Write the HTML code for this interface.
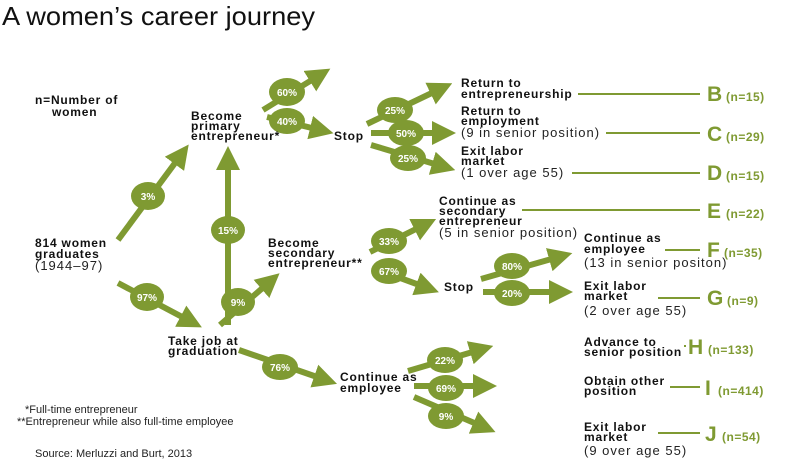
<!DOCTYPE html>
<html><head><meta charset="utf-8"><style>
html,body{margin:0;padding:0;background:#fff;width:800px;height:472px;overflow:hidden}
svg{display:block}
.b{font-family:"Liberation Sans",sans-serif;font-weight:bold;font-size:12px;letter-spacing:0.8px;fill:#111}
.r{font-family:"Liberation Sans",sans-serif;font-size:13px;letter-spacing:1px;fill:#222}
.p{font-family:"Liberation Sans",sans-serif;font-weight:bold;font-size:10px;fill:#fff}
.L{font-family:"Liberation Sans",sans-serif;font-weight:bold;font-size:21px;fill:#7f9a32}
.n{font-family:"Liberation Sans",sans-serif;font-weight:bold;font-size:12px;letter-spacing:0.5px;fill:#7f9a32}
.f{font-family:"Liberation Sans",sans-serif;font-size:11px;fill:#222}
</style></head><body>
<svg width="800" height="472" viewBox="0 0 800 472" xmlns="http://www.w3.org/2000/svg">
<defs>
<marker id="a" markerUnits="strokeWidth" markerWidth="4" markerHeight="4" refX="1" refY="2" orient="auto" viewBox="0 0 4 4">
<path d="M0,0 L4,2 L0,4 Z" fill="#7f9a32"/></marker>
</defs>
<text x="2" y="25" font-family="Liberation Sans,sans-serif" font-size="26" fill="#111" textLength="313" lengthAdjust="spacingAndGlyphs">A women’s career journey</text>
<g stroke="#7f9a32" stroke-width="6" fill="none" marker-end="url(#a)">
<line x1="118" y1="240" x2="178" y2="159"/>
<line x1="228" y1="325" x2="228" y2="164"/>
<line x1="118" y1="283" x2="186" y2="319"/>
<line x1="220" y1="325" x2="266" y2="285"/>
<line x1="263" y1="110" x2="315" y2="78"/>
<line x1="267" y1="117" x2="316" y2="129"/>
<line x1="367" y1="124" x2="436" y2="91"/>
<line x1="371" y1="133" x2="438" y2="133"/>
<line x1="371" y1="145" x2="438" y2="165"/>
<line x1="370" y1="252" x2="420" y2="227"/>
<line x1="373" y1="268" x2="422" y2="286"/>
<line x1="481" y1="279" x2="555" y2="258"/>
<line x1="483" y1="292" x2="555" y2="292"/>
<line x1="239" y1="350" x2="320" y2="378"/>
<line x1="408" y1="371" x2="476" y2="351"/>
<line x1="414" y1="386" x2="479" y2="386"/>
<line x1="414" y1="397" x2="479" y2="425"/>
</g>
<g fill="#7f9a32">
<ellipse cx="148" cy="196" rx="17" ry="14"/>
<ellipse cx="228" cy="230" rx="17" ry="14"/>
<ellipse cx="147" cy="297" rx="17" ry="14"/>
<ellipse cx="238" cy="302" rx="17" ry="14"/>
<ellipse cx="287" cy="92" rx="18" ry="14"/>
<ellipse cx="287" cy="121" rx="18" ry="13"/>
<ellipse cx="395" cy="110" rx="18" ry="13"/>
<ellipse cx="406" cy="133" rx="18" ry="13"/>
<ellipse cx="408" cy="158" rx="18" ry="13"/>
<ellipse cx="389" cy="241" rx="18" ry="13"/>
<ellipse cx="389" cy="271" rx="18" ry="13"/>
<ellipse cx="512" cy="266" rx="18" ry="13"/>
<ellipse cx="512" cy="293" rx="18" ry="13"/>
<ellipse cx="280" cy="367" rx="18" ry="13"/>
<ellipse cx="445" cy="360" rx="18" ry="13"/>
<ellipse cx="446" cy="388" rx="18" ry="13"/>
<ellipse cx="446" cy="416" rx="18" ry="13"/>
</g>
<g class="p" text-anchor="middle">
<text x="148" y="200">3%</text><text x="228" y="234">15%</text><text x="147" y="301">97%</text><text x="238" y="306">9%</text>
<text x="287" y="96">60%</text><text x="287" y="125">40%</text><text x="395" y="114">25%</text><text x="406" y="137">50%</text>
<text x="408" y="162">25%</text><text x="389" y="245">33%</text><text x="389" y="275">67%</text><text x="512" y="270">80%</text>
<text x="512" y="297">20%</text><text x="280" y="371">76%</text><text x="445" y="364">22%</text><text x="446" y="392">69%</text><text x="446" y="420">9%</text>
</g>
<g stroke="#7f9a32" stroke-width="2">
<line x1="578" y1="94" x2="700" y2="94"/>
<line x1="606" y1="133" x2="700" y2="133"/>
<line x1="572" y1="173" x2="700" y2="173"/>
<line x1="522" y1="210" x2="700" y2="210"/>
<line x1="665" y1="250" x2="700" y2="250"/>
<line x1="658" y1="298" x2="700" y2="298"/>
<line x1="684" y1="346" x2="686" y2="346"/>
<line x1="670" y1="387" x2="700" y2="387"/>
<line x1="658" y1="433" x2="700" y2="433"/>
</g>
<g class="b">
<text x="35" y="104">n=Number of</text><text x="52" y="116">women</text>
<text x="191" y="120">Become</text><text x="191" y="130">primary</text><text x="191" y="140">entrepreneur*</text>
<text x="334" y="140">Stop</text>
<text x="461" y="87">Return to</text><text x="461" y="98">entrepreneurship</text>
<text x="461" y="115">Return to</text><text x="461" y="125">employment</text>
<text x="461" y="155">Exit labor</text><text x="461" y="165">market</text>
<text x="439" y="205">Continue as</text><text x="439" y="215">secondary</text><text x="439" y="225">entrepreneur</text>
<text x="268" y="247">Become</text><text x="268" y="257">secondary</text><text x="268" y="267">entrepreneur**</text>
<text x="444" y="291">Stop</text>
<text x="584" y="242">Continue as</text><text x="584" y="253">employee</text>
<text x="584" y="290">Exit labor</text><text x="584" y="300">market</text>
<text x="35" y="247">814 women</text><text x="35" y="258">graduates</text>
<text x="168" y="345">Take job at</text><text x="168" y="355">graduation</text>
<text x="340" y="381">Continue as</text><text x="340" y="392">employee</text>
<text x="584" y="346">Advance to</text><text x="584" y="356">senior position</text>
<text x="584" y="385">Obtain other</text><text x="584" y="395">position</text>
<text x="584" y="431">Exit labor</text><text x="584" y="441">market</text>
</g>
<g class="r">
<text x="461" y="137">(9 in senior position)</text>
<text x="461" y="177">(1 over age 55)</text>
<text x="439" y="237">(5 in senior position)</text>
<text x="584" y="267">(13 in senior positon)</text>
<text x="584" y="315">(2 over age 55)</text>
<text x="35" y="270">(1944–97)</text>
<text x="584" y="455">(9 over age 55)</text>
</g>
<g class="f">
<text x="25" y="413">*Full-time entrepreneur</text>
<text x="17" y="425">**Entrepreneur while also full-time employee</text>
<text x="35" y="457">Source: Merluzzi and Burt, 2013</text>
</g>
<g><text class="L" x="707" y="101">B</text><text class="n" x="726" y="101">(n=15)</text>
<text class="L" x="707" y="141">C</text><text class="n" x="726" y="141">(n=29)</text>
<text class="L" x="707" y="180">D</text><text class="n" x="726" y="180">(n=15)</text>
<text class="L" x="707" y="218">E</text><text class="n" x="726" y="218">(n=22)</text>
<text class="L" x="707" y="257">F</text><text class="n" x="724" y="257">(n=35)</text>
<text class="L" x="707" y="305">G</text><text class="n" x="727" y="305">(n=9)</text>
<text class="L" x="688" y="354">H</text><text class="n" x="708" y="354">(n=133)</text>
<text class="L" x="705" y="395">I</text><text class="n" x="718" y="395">(n=414)</text>
<text class="L" x="705" y="441">J</text><text class="n" x="722" y="441">(n=54)</text></g>
</svg>
</body></html>
